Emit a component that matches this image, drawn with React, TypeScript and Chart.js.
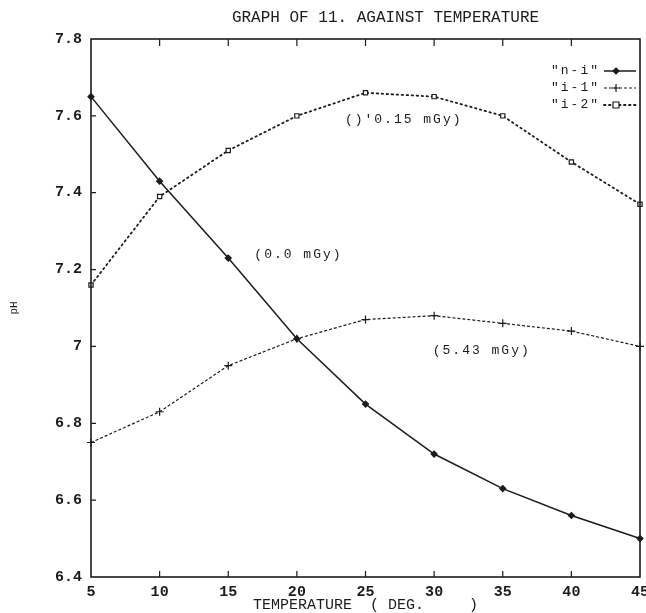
import { useEffect, useRef } from "react";
import { Chart, registerables } from "chart.js";

Chart.register(...registerables);

// ---- data ----
const temperatures = [5, 10, 15, 20, 25, 30, 35, 40, 45];
const phNI = [7.65, 7.43, 7.23, 7.02, 6.85, 6.72, 6.63, 6.56, 6.5];
const phI1 = [6.75, 6.83, 6.95, 7.02, 7.07, 7.08, 7.06, 7.04, 7.0];
const phI2 = [7.16, 7.39, 7.51, 7.6, 7.66, 7.65, 7.6, 7.48, 7.37];
const seriesNames = ['"n-i"', '"i-1"', '"i-2"'];
const xTickValues = [5, 10, 15, 20, 25, 30, 35, 40, 45];
const yTickValues = [6.4, 6.6, 6.8, 7, 7.2, 7.4, 7.6, 7.8];
const titleText = "GRAPH OF 11. AGAINST TEMPERATURE";
const xTitleText = "TEMPERATURE  ( DEG.     )";
const yTitleText = "pH";
const noteTexts = ["(0.0 mGy)", "()'0.15 mGy)", "(5.43 mGy)"];
const noteX = [16.9, 23.5, 29.9];
const noteY = [7.24, 7.59, 6.99];

const INK = "#1c1c1c";
const MONO = '"Liberation Mono", "DejaVu Sans Mono", monospace';

const styles = [
  { dash: [] as number[], width: 1.5, point: "rectRot", radius: 3, fill: INK },
  { dash: [3, 2], width: 1.2, point: "cross", radius: 4, fill: INK },
  { dash: [1.5, 3.5], width: 1.8, point: "rect", radius: 3, fill: "#ffffff" },
];

function drawMarker(ctx: CanvasRenderingContext2D, kind: string, x: number, y: number, r: number, fill: string) {
  ctx.save();
  ctx.setLineDash([]);
  ctx.lineWidth = 1.2;
  ctx.strokeStyle = INK;
  ctx.fillStyle = fill;
  ctx.beginPath();
  if (kind === "rectRot") {
    ctx.moveTo(x, y - r);
    ctx.lineTo(x + r, y);
    ctx.lineTo(x, y + r);
    ctx.lineTo(x - r, y);
    ctx.closePath();
    ctx.fill();
    ctx.stroke();
  } else if (kind === "cross") {
    ctx.moveTo(x - r, y);
    ctx.lineTo(x + r, y);
    ctx.moveTo(x, y - r);
    ctx.lineTo(x, y + r);
    ctx.stroke();
  } else {
    ctx.rect(x - r, y - r, 2 * r, 2 * r);
    ctx.fill();
    ctx.stroke();
  }
  ctx.restore();
}

const decorPlugin = {
  id: "decor",
  afterDatasetsDraw(chart: any) {
    const { ctx, chartArea: a, scales } = chart;
    const xs = scales.x;
    const ys = scales.y;
    ctx.save();
    ctx.setLineDash([]);
    ctx.strokeStyle = INK;
    ctx.lineWidth = 1.6;
    ctx.strokeRect(a.left, a.top, a.right - a.left, a.bottom - a.top);

    ctx.lineWidth = 1.2;
    ctx.beginPath();
    xs.ticks.forEach((t: any) => {
      const px = xs.getPixelForValue(t.value);
      if (px <= a.left + 1 || px >= a.right - 1) return;
      ctx.moveTo(px, a.bottom);
      ctx.lineTo(px, a.bottom - 6);
      ctx.moveTo(px, a.top);
      ctx.lineTo(px, a.top + 7);
    });
    ys.ticks.forEach((t: any) => {
      const py = ys.getPixelForValue(t.value);
      if (py <= a.top + 1 || py >= a.bottom - 1) return;
      ctx.moveTo(a.left, py);
      ctx.lineTo(a.left + 5, py);
    });
    ctx.stroke();

    // title
    ctx.fillStyle = INK;
    ctx.font = `16px ${MONO}`;
    ctx.textAlign = "center";
    ctx.textBaseline = "middle";
    ctx.fillText(titleText, (a.left + a.right) / 2 + 20, a.top - 21);

    // annotations
    ctx.font = `13px ${MONO}`;
    (ctx as any).letterSpacing = "2px";
    ctx.textAlign = "left";
    noteTexts.forEach((txt, i) => {
      ctx.fillText(txt, xs.getPixelForValue(noteX[i]), ys.getPixelForValue(noteY[i]));
    });

    // legend
    seriesNames.forEach((name, i) => {
      const rowY = a.top + 32 + i * 17;
      ctx.textAlign = "right";
      ctx.fillText(name, a.right - 40, rowY);
      const st = styles[i];
      ctx.save();
      ctx.setLineDash(st.dash);
      ctx.lineWidth = st.width;
      ctx.lineCap = i === 2 ? "round" : "butt";
      ctx.beginPath();
      ctx.moveTo(a.right - 36, rowY);
      ctx.lineTo(a.right - 4, rowY);
      ctx.stroke();
      ctx.restore();
      drawMarker(ctx, st.point, a.right - 24, rowY, st.radius, st.fill);
    });
    (ctx as any).letterSpacing = "0px";
    ctx.restore();
  },
};

export default function App() {
  const ref = useRef<HTMLCanvasElement | null>(null);

  useEffect(() => {
    if (!ref.current) return;
    const seriesValues = [phNI, phI1, phI2];
    const chart = new Chart(ref.current, {
      type: "line",
      data: {
        datasets: seriesValues.map((vals, i) => ({
          label: seriesNames[i],
          data: temperatures.map((t, j) => ({ x: t, y: vals[j] })),
          borderColor: INK,
          borderWidth: styles[i].width,
          borderDash: styles[i].dash,
          borderCapStyle: i === 2 ? "round" : "butt",
          tension: 0,
          fill: false,
          pointStyle: styles[i].point as any,
          pointRadius: styles[i].radius,
          pointBorderWidth: 1.2,
          pointBorderColor: INK,
          pointBackgroundColor: styles[i].fill,
        })),
      },
      options: {
        animation: false,
        responsive: false,
        clip: false as any,
        layout: { padding: { top: 39, right: 6, left: 0, bottom: 0 } },
        plugins: {
          legend: { display: false },
          title: { display: false },
          tooltip: { enabled: false },
        },
        scales: {
          x: {
            type: "linear",
            min: 5,
            max: 45,
            afterBuildTicks: (s: any) => {
              s.ticks = xTickValues.map((v) => ({ value: v }));
            },
            afterFit: (s: any) => {
              s.height = 36;
              s.paddingLeft = 0;
              s.paddingRight = 0;
            },
            grid: { display: false, drawTicks: false },
            border: { display: false },
            ticks: {
              color: INK,
              padding: 6,
              maxRotation: 0,
              autoSkip: false,
              font: { family: MONO, size: 15, weight: "bold" },
              callback: (v: any) => String(v),
            },
            title: {
              display: true,
              text: xTitleText,
              color: INK,
              padding: { top: 0, bottom: 0 },
              font: { family: MONO, size: 15, lineHeight: 1 },
            },
          },
          y: {
            type: "linear",
            min: 6.4,
            max: 7.8,
            afterBuildTicks: (s: any) => {
              s.ticks = yTickValues.map((v) => ({ value: v }));
            },
            afterFit: (s: any) => {
              s.width = 91;
              s.paddingTop = 0;
              s.paddingBottom = 0;
            },
            grid: { display: false, drawTicks: false },
            border: { display: false },
            ticks: {
              color: INK,
              padding: 9,
              autoSkip: false,
              font: { family: MONO, size: 15, weight: "bold" },
              callback: (v: any) => String(Math.round(Number(v) * 10) / 10),
            },
            title: {
              display: true,
              text: yTitleText,
              color: INK,
              padding: { top: 9, bottom: 0 },
              font: { family: MONO, size: 11, lineHeight: 1 },
            },
          },
        },
      },
      plugins: [decorPlugin],
    });
    return () => chart.destroy();
  }, []);

  return (
    <div style={{ position: "absolute", left: 0, top: 0, width: 646, height: 613, background: "#fff" }}>
      <canvas ref={ref} width={646} height={613} style={{ display: "block" }} />
    </div>
  );
}
